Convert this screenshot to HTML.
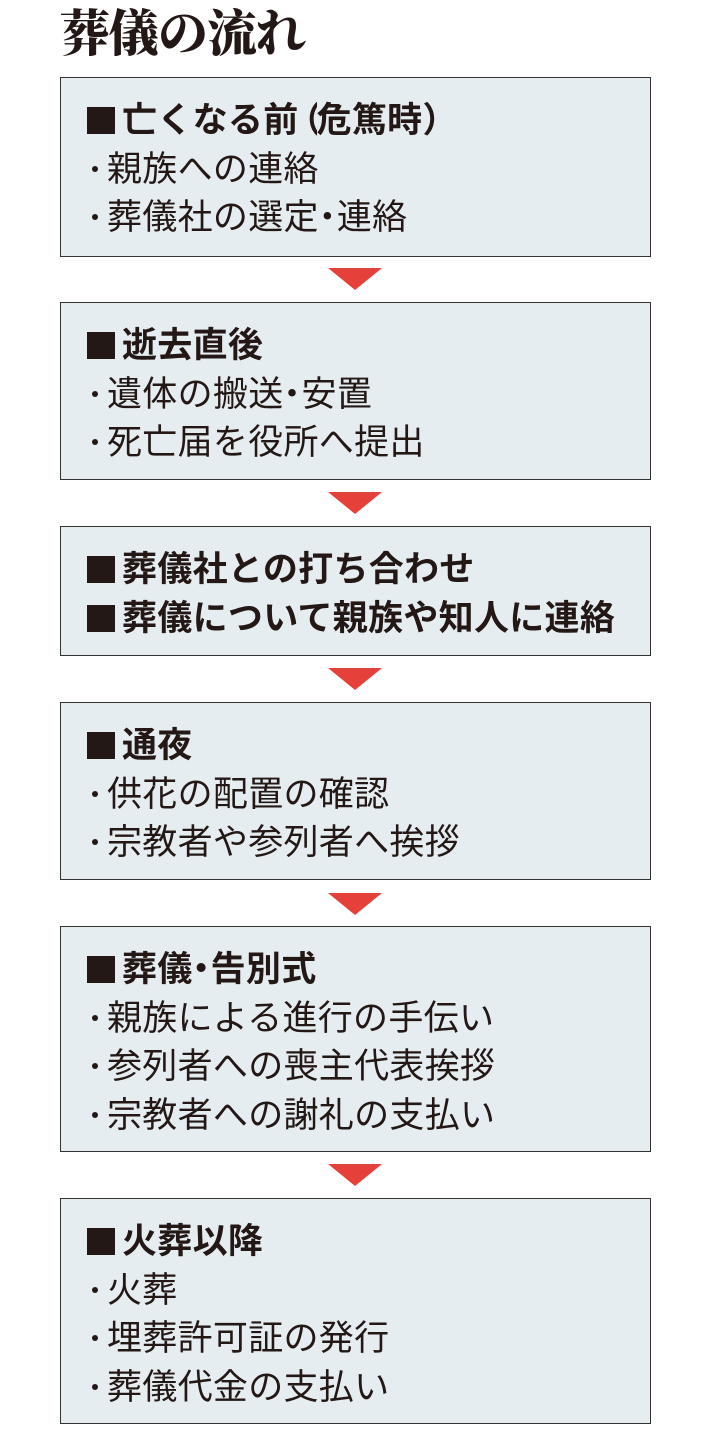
<!DOCTYPE html>
<html><head><meta charset="utf-8"><style>
body{margin:0;width:710px;height:1437px;background:#fff;position:relative;font-family:"Liberation Sans","Noto Sans CJK JP",sans-serif;color:#231815;overflow:hidden}
.t{position:absolute;left:60px;top:4px;font-family:"Liberation Serif","Noto Serif CJK SC",serif;font-weight:900;font-size:50px;line-height:60px;letter-spacing:-1px}
.b{position:absolute;left:60px;background:#e6edf1;border:1.5px solid #333;box-sizing:border-box;width:591px;padding:19px 0 0 26px}
.l{font-size:35px;line-height:48.5px;white-space:nowrap;letter-spacing:0.3px}
.h{font-weight:bold}
.h:before{content:"";display:inline-block;width:28px;height:27px;background:#231815;margin-right:7px;vertical-align:-2px}
.l:not(.h):before{content:"";display:inline-block;width:6px;height:6px;border-radius:50%;background:#231815;margin:0 9px 0 5px;vertical-align:9px}
.n{display:inline-block;width:18px;overflow:hidden;text-align:center;vertical-align:bottom}
.n span{display:inline-block;margin-left:-9px}
.po{display:inline-block;width:18px;overflow:hidden;vertical-align:bottom}
.po span{display:inline-block;margin-left:-12px}
.pc{display:inline-block;width:18px;overflow:hidden;vertical-align:bottom}
.a{position:absolute;left:328px;width:0;height:0;border-left:27px solid transparent;border-right:27px solid transparent;border-top:22px solid #e5413a}
</style></head><body>
<div class="t">葬儀の流れ</div>
<div class="b" style="top:77px;height:180px"><div class="l h">亡くなる前<span class="po"><span>（</span></span>危篤時<span class="pc">）</span></div><div class="l">親族への連絡</div><div class="l">葬儀社の選定<span class="n"><span>・</span></span>連絡</div></div>
<div class="a" style="top:268px"></div>
<div class="b" style="top:302px;height:178px"><div class="l h">逝去直後</div><div class="l">遺体の搬送<span class="n"><span>・</span></span>安置</div><div class="l">死亡届を役所へ提出</div></div>
<div class="a" style="top:492px"></div>
<div class="b" style="top:526px;height:130px"><div class="l h">葬儀社との打ち合わせ</div><div class="l h">葬儀について親族や知人に連絡</div></div>
<div class="a" style="top:668px"></div>
<div class="b" style="top:702px;height:178px"><div class="l h">通夜</div><div class="l">供花の配置の確認</div><div class="l">宗教者や参列者へ挨拶</div></div>
<div class="a" style="top:893px"></div>
<div class="b" style="top:926px;height:226px"><div class="l h">葬儀<span class="n"><span>・</span></span>告別式</div><div class="l">親族による進行の手伝い</div><div class="l">参列者への喪主代表挨拶</div><div class="l">宗教者への謝礼の支払い</div></div>
<div class="a" style="top:1164px"></div>
<div class="b" style="top:1198px;height:226px"><div class="l h">火葬以降</div><div class="l">火葬</div><div class="l">埋葬許可証の発行</div><div class="l">葬儀代金の支払い</div></div>
</body></html>
